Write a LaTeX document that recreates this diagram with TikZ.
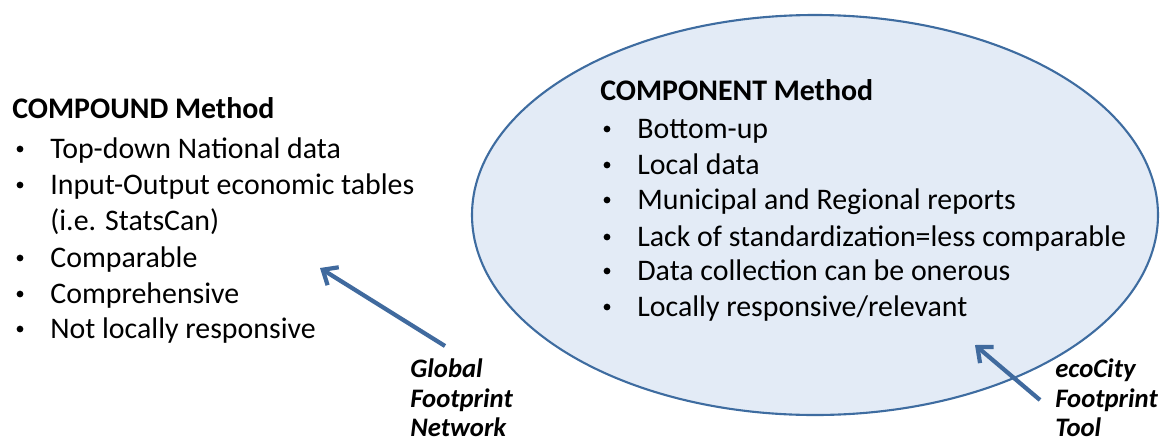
\documentclass[tikz,border=0pt]{standalone}
\usepackage{fontspec}
\setmainfont{Carlito}
\usetikzlibrary{arrows.meta}
\definecolor{ovalfill}{RGB}{227,235,246}
\definecolor{ovalline}{RGB}{62,108,160}
\definecolor{arrowblue}{RGB}{64,106,158}
\tikzset{
  head/.style={anchor=base west, inner sep=0pt, font=\fontsize{17}{20}\selectfont\bfseries},
  item/.style={anchor=base west, inner sep=0pt, font=\fontsize{17}{20}\selectfont},
  dot/.style={circle, fill=black, inner sep=0pt, minimum size=0.135cm},
  tool/.style={anchor=base west, inner sep=0pt, font=\fontsize{15.2}{18}\selectfont\bfseries\itshape},
  pointer/.style={draw=arrowblue, line width=2.4pt, -{Straight Barb[length=7pt, width=12pt, line width=2.4pt]}}
}
\begin{document}
\begin{tikzpicture}[x=0.02cm, y=-0.02cm]
			%%%%% START %%%%%
			\useasboundingbox (0, 0) rectangle (1161, 444);
			
			% component oval
			\draw[fill=ovalfill, draw=ovalline, line width=1.2pt] (815, 215) ellipse (343 and 200);
			
			% compound list
			\node[head] (compound) at (12, 118) {COMPOUND Method};
			\node[dot] (b1) at (20, 149) {};
			\node[item] (c1) at (50, 158) {Top-down National data};
			\node[dot] (b2) at (20, 185) {};
			\node[item] (c2) at (50, 194) {Input-Output economic tables};
			\node[item] (c2b) at (50, 230) {(i.e. StatsCan)};
			\node[dot] (b3) at (20, 258) {};
			\node[item] (c3) at (50, 267) {Comparable};
			\node[dot] (b4) at (20, 294) {};
			\node[item] (c4) at (50, 303) {Comprehensive};
			\node[dot] (b5) at (20, 329) {};
			\node[item] (c5) at (50, 338) {Not locally responsive};
			
			% component list
			\node[head] (component) at (600, 100) {COMPONENT Method};
			\node[dot] (d1) at (607, 129) {};
			\node[item] (m1) at (637, 138) {Bottom-up};
			\node[dot] (d2) at (607, 165) {};
			\node[item] (m2) at (637, 174) {Local data};
			\node[dot] (d3) at (607, 200) {};
			\node[item] (m3) at (637, 209) {Municipal and Regional reports};
			\node[dot] (d4) at (607, 237) {};
			\node[item] (m4) at (637, 246) {Lack of standardization=less comparable};
			\node[dot] (d5) at (607, 271) {};
			\node[item] (m5) at (637, 280) {Data collection can be onerous};
			\node[dot] (d6) at (607, 307) {};
			\node[item] (m6) at (637, 316) {Locally responsive/relevant};
			
			% tool labels
			\node[tool] (gfn1) at (410, 377) {Global};
			\node[tool] (gfn2) at (410, 407) {Footprint};
			\node[tool] (gfn3) at (410, 436) {Network};
			\node[tool] (eco1) at (1055, 377) {ecoCity};
			\node[tool] (eco2) at (1055, 407) {Footprint};
			\node[tool] (eco3) at (1055, 436) {Tool};
			
			% pointers
			\coordinate (gfnfoot) at (445, 346);
			\coordinate (gfntip) at (320, 268);
			\coordinate (ecofoot) at (1040, 400);
			\coordinate (ecotip) at (975, 345);
			\draw[pointer] (gfnfoot) -- (gfntip);
			\draw[pointer] (ecofoot) -- (ecotip);
			%%%%% END %%%%%
\end{tikzpicture}
\end{document}
